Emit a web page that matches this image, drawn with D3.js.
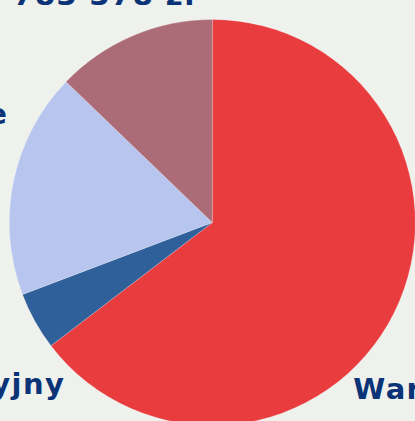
<!DOCTYPE html>
<html>
<head>
<meta charset="utf-8">
<script src="https://cdn.jsdelivr.net/npm/d3@7"></script>
<style>
  html, body { margin: 0; padding: 0; background: #eff1ec; }
  svg { display: block; }
</style>
</head>
<body>
<div id="chart"></div>
<script>
// Budget split (zł), clockwise from 12 o'clock
const categories = ['Warszawa', 'Program Operacyjny', 'Środki własne', 'Inne'];
const values = [3953000, 281900, 1099000, 783378];
const valueLabels = ['', '', '', '783 378 zł'];

const colors = ['#e93c3f', '#30609a', '#b8c6ef', '#ab6b77'];

const width = 415;
const height = 421;
const cx = 212.3;
const cy = 222.5;
const radius = 203;

const svg = d3.select('#chart')
  .append('svg')
  .attr('width', width)
  .attr('height', height);

const g = svg.append('g').attr('transform', `translate(${cx},${cy})`);

const pie = d3.pie().sort(null).value(d => d);
const arc = d3.arc().innerRadius(0).outerRadius(radius);

const arcs = pie(values);

g.selectAll('path')
  .data(arcs)
  .join('path')
  .attr('d', arc)
  .attr('fill', (d, i) => colors[i])
  .attr('stroke', '#ffffff')
  .attr('stroke-opacity', 0.35)
  .attr('stroke-width', 0.6);

// Outside labels (layout offsets relative to chart centre)
const labelLayout = [
  { dx: 141, dy: 176, anchor: 'start', text: categories[0] },
  { dx: -147, dy: 171, anchor: 'end', text: categories[1] },
  { dx: -204, dy: -99, anchor: 'end', text: categories[2] },
  { dx: -199, dy: -218, anchor: 'start', text: valueLabels[3] }
];

g.selectAll('text.label')
  .data(labelLayout)
  .join('text')
  .attr('class', 'label')
  .attr('x', d => d.dx)
  .attr('y', d => d.dy)
  .attr('text-anchor', d => d.anchor)
  .attr('font-family', '"DejaVu Sans", sans-serif')
  .attr('font-weight', 700)
  .attr('font-size', '29px')
  .attr('letter-spacing', '1.4px')
  .attr('fill', '#0b3377')
  .text(d => d.text);
</script>
</body>
</html>
